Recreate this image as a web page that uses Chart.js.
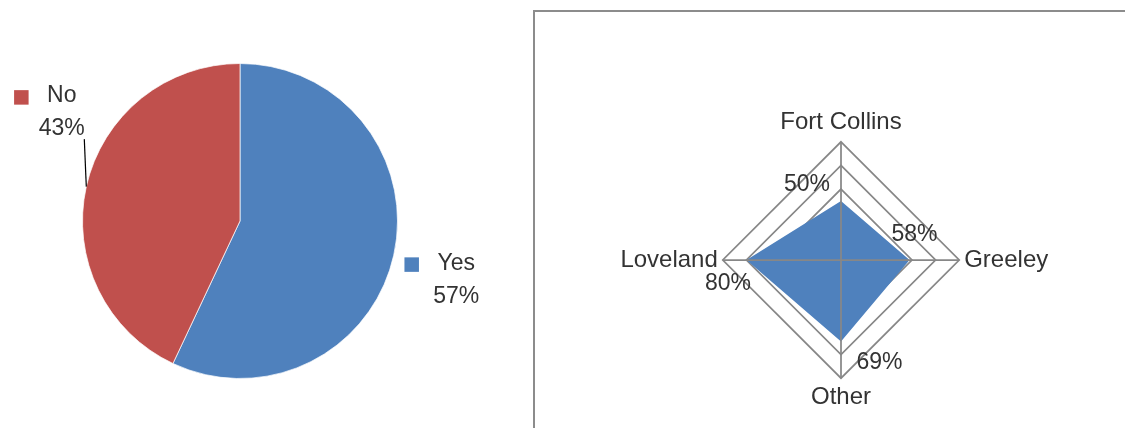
<!DOCTYPE html>
<html>
<head>
<meta charset="utf-8">
<script src="https://cdn.jsdelivr.net/npm/chart.js@4.4.1/dist/chart.umd.min.js"></script>
<style>
    html, body { margin: 0; padding: 0; background: #fff; overflow: hidden; }
    body { width: 1125px; height: 428px; position: relative; font-family: 'Liberation Sans', Arial, sans-serif; }
    #pieChart { position: absolute; left: 0; top: 0; }
    #radarBox { position: absolute; left: 533px; top: 10px; width: 620px; height: 440px;
                border-left: 2px solid #8c8c8c; border-top: 2px solid #8c8c8c; }
    #radarChart { position: absolute; left: 536px; top: 12px; }
</style>
</head>
<body>
<canvas id="pieChart" width="530" height="428"></canvas>
<div id="radarBox"></div>
<canvas id="radarChart" width="589" height="416"></canvas>
<script>
// Dữ liệu biểu đồ tròn
const pieLabels = ['Yes', 'No'];
const pieValues = [57, 43];
const pieColors = ['#4F81BD', '#C0504D'];

// Dữ liệu biểu đồ radar
const radarLabels = ['Fort Collins', 'Greeley', 'Other', 'Loveland'];
const radarValues = [50, 58, 69, 80];
const radarTicks = [0, 20, 40, 60, 80, 100];

const textColor = '#333333';
const gridColor = '#878787';

// Nhãn của biểu đồ tròn (ô màu + tên + phần trăm)
const pieLabelPlugin = {
    id: 'pieLabels',
    afterDatasetsDraw(chart, args, opts) {
        const ctx = chart.ctx;
        const meta = chart.getDatasetMeta(0);
        const total = pieValues.reduce((a, b) => a + b, 0);
        meta.data.forEach((arc, i) => {
            const p = arc.getProps(['x', 'y', 'startAngle', 'endAngle', 'outerRadius'], true);
            const mid = (p.startAngle + p.endAngle) / 2;
            const ax = p.x + Math.cos(mid) * p.outerRadius;
            const ay = p.y + Math.sin(mid) * p.outerRadius;
            const o = opts.offsets[i];
            const cx = ax + o.dx;
            const cy = ay + o.dy;
            ctx.save();
            ctx.font = '23px "Liberation Sans", Arial, sans-serif';
            ctx.textAlign = 'center';
            ctx.textBaseline = 'middle';
            ctx.fillStyle = textColor;
            ctx.fillText(pieLabels[i], cx, cy);
            const w = ctx.measureText(pieLabels[i]).width;
            ctx.fillStyle = pieColors[i];
            ctx.fillRect(cx - w / 2 - 33, cy - 6, 14.5, 14.5);
            ctx.fillStyle = textColor;
            ctx.fillText(Math.round(pieValues[i] / total * 100) + '%', cx, cy + 33);
            if (o.leader) {
                ctx.strokeStyle = '#000';
                ctx.lineWidth = 1.2;
                ctx.beginPath();
                ctx.moveTo(ax, ay);
                ctx.lineTo(cx + 22.5, cy + 43);
                ctx.stroke();
            }
            ctx.restore();
        });
    }
};

new Chart(document.getElementById('pieChart').getContext('2d'), {
    type: 'pie',
    data: {
        labels: pieLabels,
        datasets: [{
            data: pieValues,
            backgroundColor: pieColors,
            borderColor: 'rgba(255,255,255,0.7)',
            borderWidth: 1
        }]
    },
    options: {
        responsive: false,
        animation: false,
        layout: { padding: { left: 82, top: 63, right: 132, bottom: 49 } },
        plugins: {
            legend: { display: false },
            tooltip: { enabled: false },
            pieLabels: {
                offsets: [
                    { dx: 62.5, dy: 8 },
                    { dx: -24.5, dy: -90.5, leader: true }
                ]
            }
        }
    },
    plugins: [pieLabelPlugin]
});

// Trục góc vẽ đè lên vùng tô, và nhãn giá trị
const radarOverlayPlugin = {
    id: 'radarOverlay',
    afterDatasetsDraw(chart, args, opts) {
        const ctx = chart.ctx;
        const scale = chart.scales.r;
        const outer = scale.getDistanceFromCenterForValue(scale.max);
        ctx.save();
        ctx.strokeStyle = gridColor;
        ctx.lineWidth = 1.75;
        radarLabels.forEach((_, i) => {
            const p = scale.getPointPosition(i, outer);
            ctx.beginPath();
            ctx.moveTo(scale.xCenter, scale.yCenter);
            ctx.lineTo(p.x, p.y);
            ctx.stroke();
        });
        ctx.font = '23px "Liberation Sans", Arial, sans-serif';
        ctx.textAlign = 'center';
        ctx.textBaseline = 'middle';
        ctx.fillStyle = textColor;
        chart.getDatasetMeta(0).data.forEach((pt, i) => {
            const o = opts.offsets[i];
            ctx.fillText(radarValues[i] + '%', pt.x + o.dx, pt.y + o.dy);
        });
        ctx.restore();
    }
};

new Chart(document.getElementById('radarChart').getContext('2d'), {
    type: 'radar',
    data: {
        labels: radarLabels,
        datasets: [{
            data: radarValues,
            backgroundColor: '#4F81BD',
            borderWidth: 0,
            pointRadius: 0,
            fill: true
        }]
    },
    options: {
        responsive: false,
        animation: false,
        layout: { padding: { left: 22, right: 0, top: 97, bottom: 15 } },
        plugins: {
            legend: { display: false },
            tooltip: { enabled: false },
            radarOverlay: {
                offsets: [
                    { dx: -34, dy: -16 },
                    { dx: 5, dy: -25 },
                    { dx: 38.5, dy: 21 },
                    { dx: -18.5, dy: 24 }
                ]
            }
        },
        scales: {
            r: {
                min: radarTicks[0],
                max: radarTicks[radarTicks.length - 1],
                ticks: { display: false, stepSize: radarTicks[1] - radarTicks[0] },
                grid: { circular: false, color: gridColor, lineWidth: 1.75 },
                angleLines: { display: false },
                pointLabels: {
                    padding: 5,
                    color: textColor,
                    font: { family: '"Liberation Sans", Arial, sans-serif', size: 24 }
                }
            }
        }
    },
    plugins: [radarOverlayPlugin]
});
</script>
</body>
</html>
